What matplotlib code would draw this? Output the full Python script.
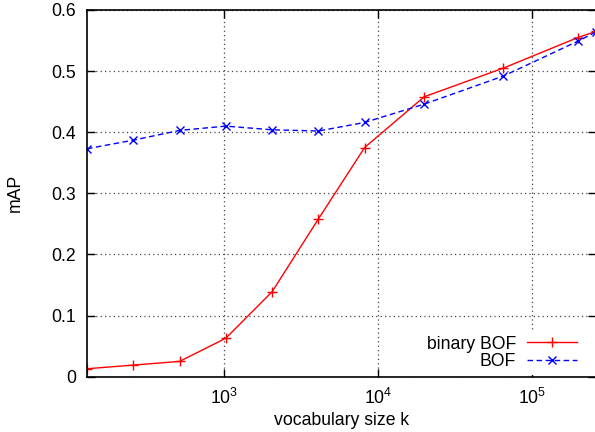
import matplotlib
matplotlib.use("Agg")
import matplotlib.pyplot as plt
from matplotlib.ticker import FixedLocator, NullLocator

vocab_sizes = [128, 256, 512, 1024, 2048, 4096, 8192, 20000, 65536, 200000, 262144]
binary_bof = [0.013, 0.019, 0.025, 0.063, 0.139, 0.258, 0.375, 0.458, 0.505, 0.555, 0.565]
bof = [0.373, 0.387, 0.403, 0.410, 0.404, 0.402, 0.416, 0.446, 0.492, 0.549, 0.564]
x_ticks = [1e3, 1e4, 1e5]
x_ticklabels = ["$10^3$", "$10^4$", "$10^5$"]
y_ticks = [0, 0.1, 0.2, 0.3, 0.4, 0.5, 0.6]
y_ticklabels = ["0", "0.1", "0.2", "0.3", "0.4", "0.5", "0.6"]

plt.rcParams['font.family'] = ['Liberation Sans', 'DejaVu Sans']
plt.rcParams['mathtext.fontset'] = 'custom'
plt.rcParams['mathtext.rm'] = 'Liberation Sans'
plt.rcParams['mathtext.it'] = 'Liberation Sans'

FS = 12.7

fig = plt.figure(figsize=(5.95, 4.32), dpi=100)
ax = fig.add_axes([87/595, 1-376.7/432, (596-87)/595, (376.7-10)/432])

ax.plot(vocab_sizes, binary_bof, color='#ff0000', lw=1.0, marker='+', ms=7, mew=1.0,
        label='binary BOF', clip_on=True)
ax.plot(vocab_sizes, bof, color='#0000ff', lw=1.0, ls=(0, (4, 2.5)), marker='x', ms=6, mew=1.0,
        label='BOF', clip_on=True)

ax.set_xscale('log')
ax.set_xlim(128, 262144)
ax.set_ylim(0, 0.6)
ax.xaxis.set_major_locator(FixedLocator(x_ticks))
ax.xaxis.set_minor_locator(NullLocator())
ax.set_xticklabels(x_ticklabels)
ax.set_yticks(y_ticks)
ax.set_yticklabels(y_ticklabels)

ax.tick_params(axis='both', which='major', direction='in', length=6, width=1,
               top=True, right=True, labelsize=FS, pad=8)
ax.grid(True, which='major', color='#444444', ls=(0, (1, 2.5)), lw=0.9)
for s in ax.spines.values():
    s.set_linewidth(1.2)

ax.set_xlabel('vocabulary size k', fontsize=FS, labelpad=3)
ax.set_ylabel('mAP', fontsize=FS, labelpad=20)

leg = ax.legend(loc='lower right', bbox_to_anchor=(0.973, 0.004), frameon=True,
                fontsize=FS, markerfirst=False, handlelength=2.85, handletextpad=0.6,
                labelspacing=0.02, borderpad=0.3, borderaxespad=0)
leg.get_frame().set_edgecolor('none')
leg.get_frame().set_facecolor('white')
leg.get_frame().set_alpha(1)
leg.get_frame().set_boxstyle('square', pad=0)
for t in leg.get_texts():
    t.set_ha('right')

fig.savefig('out.png', dpi=100)
